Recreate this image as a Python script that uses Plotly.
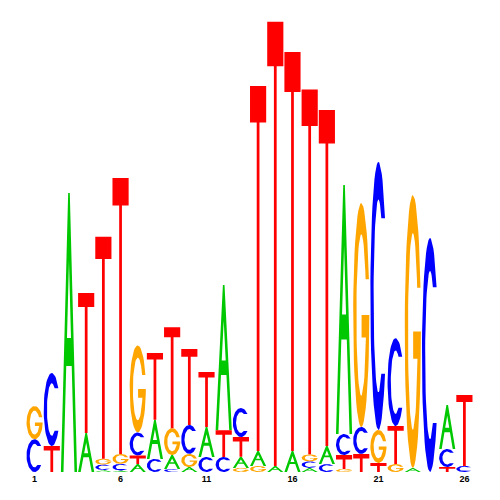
import math
import plotly.graph_objects as go

# ---- data (information content, bits) ----
positions = list(range(1, 27))
A_bits = [0, 0, 1.235, .173, .009, .007, .035, .173, .062, .022, .133, .642, .049,
          .066, .027, .093, .018, .080, 1.102, 0, 0, 0, .018, 0, .195, 0]
C_bits = [.145, .323, 0, 0, .024, .029, .102, .058, .013, .128, .066, .066, .128,
          0, 0, 0, .029, .035, .093, .119, 1.186, .389, 0, 1.035, .080, .027]
G_bits = [.147, 0, 0, 0, .026, .044, .385, 0, .119, .058, 0, 0, .018,
          .027, 0, 0, .031, 0, .013, .991, .146, .035, 1.208, 0, 0, 0]
T_bits = [0, .115, 0, .619, .982, 1.221, .038, .296, .447, .336, .243, .119, .088,
          1.615, 1.965, 1.765, 1.615, 1.487, .062, .080, .040, .168, 0, 0, .022, .314]
tick_positions = [1, 6, 11, 16, 21, 26]
tick_labels = ["1", "6", "11", "16", "21", "26"]

colors = {"A": "#00C800", "C": "#0000FF", "G": "#FFA500", "T": "#FF0000"}
LETTER_W = 0.94


# ---- glyph outlines in a unit box ----
def arc(cx, cy, rx, ry, a0, a1, n=48):
    return [(cx + rx * math.cos(a0 + (a1 - a0) * i / n),
             cy + ry * math.sin(a0 + (a1 - a0) * i / n)) for i in range(n + 1)]


def glyph_A(h):
    a, t = 0.05, 0.16
    s = 0.5 - a
    c0, c1 = 0.38, 0.48
    xl = lambda y: t + s * y
    xr = lambda y: 1 - t - s * y
    yh = (0.5 - t) / s
    return [(0, 0), (0.5 - a, 1), (0.5 + a, 1), (1, 0), (1 - t, 0), (xr(c0), c0),
            (xl(c0), c0), (xl(c1), c1), (xr(c1), c1), (0.5, yh), (xl(c1), c1),
            (xl(c0), c0), (t, 0)]


def glyph_C(h):
    rxi, ryi, yt = 0.3, 0.36, 0.29
    to = math.asin(yt / 0.5)
    ti = math.asin(yt / ryi)
    pts = arc(0.5, 0.5, 0.5, 0.5, to, 2 * math.pi - to)
    pts += arc(0.5, 0.5, rxi, ryi, 2 * math.pi - ti, ti)
    return pts


def glyph_G(h):
    rxi, ryi, yt = 0.3, 0.36, 0.16
    to = math.asin(yt / 0.5)
    ti = math.asin(yt / ryi)
    pts = arc(0.5, 0.5, 0.5, 0.5, to, 2 * math.pi)
    pts += [(0.52, 0.5), (0.52, 0.4)]
    ps = 2 * math.pi - math.asin(0.1 / ryi)
    pts += arc(0.5, 0.5, rxi, ryi, ps, ti)
    return pts


def glyph_T(h):
    b = 1 - min(0.35, max(0.1, 0.02 / h))
    s = 0.085
    return [(0, 1), (1, 1), (1, b), (0.5 + s, b), (0.5 + s, 0), (0.5 - s, 0),
            (0.5 - s, b), (0, b)]


glyphs = {"A": glyph_A, "C": glyph_C, "G": glyph_G, "T": glyph_T}
bits = {"A": A_bits, "C": C_bits, "G": G_bits, "T": T_bits}

coords = {k: ([], []) for k in "ACGT"}
for i, pos in enumerate(positions):
    stack = sorted([(bits[b][i], b) for b in "ACGT" if bits[b][i] > 0])
    y0 = 0.0
    for h, b in stack:
        xs, ys = coords[b]
        for u, v in glyphs[b](h):
            xs.append(pos - LETTER_W / 2 + u * LETTER_W)
            ys.append(y0 + v * h)
        xs.append(None)
        ys.append(None)
        y0 += h

fig = go.Figure()
for b in "ACGT":
    xs, ys = coords[b]
    fig.add_trace(go.Scatter(x=xs, y=ys, mode="lines", fill="toself",
                             fillcolor=colors[b], line=dict(width=0, color=colors[b]),
                             hoverinfo="skip", showlegend=False, name=b))

fig.update_layout(
    width=500, height=500,
    margin=dict(l=18, r=35, t=12, b=36),
    plot_bgcolor="white", paper_bgcolor="white",
    xaxis=dict(range=[0.5, 26.5], tickmode="array", tickvals=tick_positions,
               ticktext=["<b>%s</b>" % t for t in tick_labels],
               showgrid=False, zeroline=False, showline=False, ticks="",
               tickfont=dict(family="Liberation Sans, Arial", size=9, color="black")),
    yaxis=dict(range=[0, 2.0], visible=False, showgrid=False, zeroline=False),
)
fig.write_html("out.html")
